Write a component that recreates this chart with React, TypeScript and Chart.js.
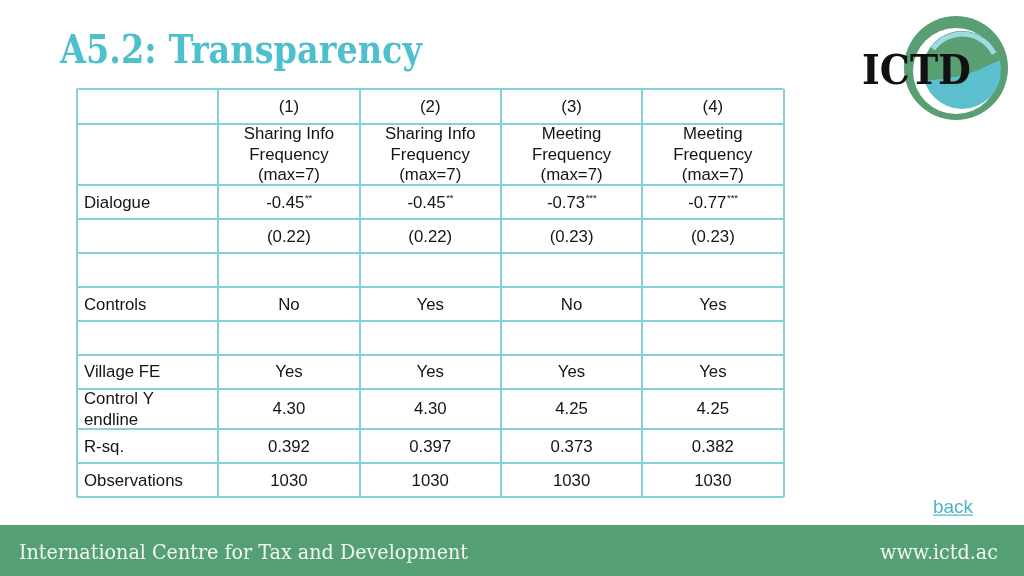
import React, { useEffect, useRef } from "react";
import { Chart, registerables } from "chart.js";

Chart.register(...registerables);

// ---- Data ----
const columnHeaders = ["(1)", "(2)", "(3)", "(4)"];
const dependentVars = [
  "Sharing Info\nFrequency\n(max=7)",
  "Sharing Info\nFrequency\n(max=7)",
  "Meeting\nFrequency\n(max=7)",
  "Meeting\nFrequency\n(max=7)",
];
const rowLabels = ["", "", "Dialogue", "", "", "Controls", "", "Village FE", "Control Y\nendline", "R-sq.", "Observations"];
const coefficients = [-0.45, -0.45, -0.73, -0.77];
const significance = ["**", "**", "***", "***"];
const standardErrors = [0.22, 0.22, 0.23, 0.23];
const controls = ["No", "Yes", "No", "Yes"];
const villageFE = ["Yes", "Yes", "Yes", "Yes"];
const controlMean = [4.3, 4.3, 4.25, 4.25];
const rSquared = [0.392, 0.397, 0.373, 0.382];
const observations = [1030, 1030, 1030, 1030];

const titleText = "A5.2: Transparency";
const footerText = "International Centre for Tax and Development";
const footerUrl = "www.ictd.ac";
const backText = "back";

// ---- Layout (not data) ----
const ROW_HEIGHTS = [34.5, 61.5, 34, 34, 34, 34, 33.5, 34, 40.5, 34, 34];
const TABLE = { left: 77, right: 783.5, top: 89, bottom: 497 };
const LINE_H = 20.5;
const FONT = "16.8px 'Liberation Sans', Arial, sans-serif";
const SUP_FONT = "9.5px 'Liberation Sans', Arial, sans-serif";
const GRID = "#84d1d8";

export default function App() {
  const ref = useRef<HTMLCanvasElement | null>(null);

  useEffect(() => {
    document.body.style.margin = "0";
    const canvas = ref.current;
    if (!canvas) return;

    const bounds: number[] = [0];
    ROW_HEIGHTS.forEach((h, i) => bounds.push(bounds[i] + h));
    const centers = ROW_HEIGHTS.map((h, i) => bounds[i] + h / 2);
    const total = bounds[bounds.length - 1];

    const blanks = ["", "", "", ""];
    const rowCells: string[][] = [
      columnHeaders,
      dependentVars,
      coefficients.map((v) => v.toFixed(2)),
      standardErrors.map((v) => "(" + v.toFixed(2) + ")"),
      blanks,
      controls,
      blanks,
      villageFE,
      controlMean.map((v) => v.toFixed(2)),
      rSquared.map((v) => v.toFixed(3)),
      observations.map((v) => String(v)),
    ];

    const points: any[] = [];
    rowLabels.forEach((lab, r) => {
      if (lab) points.push({ x: 0, y: centers[r], text: lab, align: "left", sup: "" });
      rowCells[r].forEach((t, c) => {
        if (t) points.push({ x: c + 1.5, y: centers[r], text: t, align: "center", sup: r === 2 ? significance[c] : "" });
      });
    });

    const fitText = (ctx: CanvasRenderingContext2D, text: string, x: number, y: number, width: number) => {
      const w = ctx.measureText(text).width;
      ctx.save();
      ctx.translate(x, y);
      ctx.scale(width / w, 1);
      ctx.fillText(text, 0, 0);
      ctx.restore();
    };

    const decor = {
      id: "decor",
      beforeDraw(chart: any) {
        const ctx = chart.ctx as CanvasRenderingContext2D;
        ctx.save();
        ctx.fillStyle = "#ffffff";
        ctx.fillRect(0, 0, 1024, 576);
        // footer
        ctx.fillStyle = "#559f74";
        ctx.fillRect(0, 525, 1024, 51);
        ctx.fillStyle = "#f3f8f1";
        ctx.textBaseline = "alphabetic";
        ctx.textAlign = "left";
        ctx.font = "20px 'DejaVu Serif', serif";
        fitText(ctx, footerText, 19, 559, 449);
        fitText(ctx, footerUrl, 880, 558.5, 118);
        // title
        ctx.fillStyle = "#4ebfcc";
        ctx.font = "bold 40px 'DejaVu Serif', serif";
        fitText(ctx, titleText, 60, 63, 362);
        // back link
        ctx.fillStyle = "#4eb4c8";
        ctx.font = "19px 'Liberation Sans', Arial, sans-serif";
        fitText(ctx, backText, 933, 512.5, 40);
        ctx.fillRect(933, 514.5, 40, 1.2);
        // logo
        ctx.fillStyle = "#5a9f74";
        ctx.beginPath();
        ctx.arc(956, 68, 52, 0, Math.PI * 2);
        ctx.fill();
        ctx.fillStyle = "#ffffff";
        ctx.beginPath();
        ctx.arc(956, 71, 43, 0, Math.PI * 2);
        ctx.fill();
        ctx.save();
        ctx.beginPath();
        ctx.arc(962, 70, 39, 0, Math.PI * 2);
        ctx.clip();
        ctx.fillStyle = "#5cbfce";
        ctx.fillRect(900, 20, 110, 110);
        ctx.fillStyle = "#5a9f74";
        ctx.beginPath();
        ctx.moveTo(915, 20);
        ctx.lineTo(1010, 20);
        ctx.lineTo(1010, 58);
        ctx.bezierCurveTo(990, 62, 985, 70, 960, 76);
        ctx.bezierCurveTo(940, 80, 925, 80, 915, 82);
        ctx.closePath();
        ctx.fill();
        ctx.strokeStyle = "#9fdbe2";
        ctx.lineWidth = 5;
        ctx.beginPath();
        ctx.arc(962, 70, 36, Math.PI * 1.2, Math.PI * 1.85);
        ctx.stroke();
        ctx.restore();
        ctx.fillStyle = "#111111";
        ctx.font = "bold 41px 'DejaVu Serif', serif";
        fitText(ctx, "ICTD", 862, 84, 109);
        ctx.restore();
      },
    };

    const tableText = {
      id: "tableText",
      afterDatasetsDraw(chart: any) {
        const ctx = chart.ctx as CanvasRenderingContext2D;
        const meta = chart.getDatasetMeta(0);
        const data = chart.data.datasets[0].data as any[];
        ctx.save();
        ctx.fillStyle = "#141414";
        ctx.textBaseline = "middle";
        meta.data.forEach((el: any, i: number) => {
          const d = data[i];
          const lines = String(d.text).split("\n");
          const y0 = el.y - ((lines.length - 1) * LINE_H) / 2;
          ctx.font = FONT;
          if (d.align === "left") {
            ctx.textAlign = "left";
            lines.forEach((ln: string, k: number) => ctx.fillText(ln, el.x + 7, y0 + k * LINE_H + 1));
          } else {
            let supW = 0;
            if (d.sup) {
              ctx.font = SUP_FONT;
              supW = ctx.measureText(d.sup).width;
              ctx.font = FONT;
            }
            ctx.textAlign = "left";
            lines.forEach((ln: string, k: number) => {
              const w = ctx.measureText(ln).width;
              const sx = el.x - (w + supW) / 2;
              ctx.fillText(ln, sx, y0 + k * LINE_H + 1);
              if (d.sup) {
                ctx.font = SUP_FONT;
                ctx.fillText(d.sup, sx + w + 0.5, y0 + k * LINE_H - 4);
                ctx.font = FONT;
              }
            });
          }
        });
        ctx.restore();
      },
    };

    const chart = new Chart(canvas, {
      type: "scatter",
      data: {
        datasets: [
          {
            data: points,
            pointRadius: 0,
            pointHoverRadius: 0,
            showLine: false,
          },
        ],
      },
      options: {
        animation: false,
        responsive: false,
        events: [],
        layout: {
          padding: {
            left: TABLE.left,
            right: 1024 - TABLE.right,
            top: TABLE.top,
            bottom: 576 - TABLE.bottom,
          },
        },
        plugins: { legend: { display: false }, tooltip: { enabled: false }, title: { display: false } },
        scales: {
          x: {
            type: "linear",
            min: 0,
            max: 5,
            afterBuildTicks: (s: any) => {
              s.ticks = [0, 1, 2, 3, 4, 5].map((v) => ({ value: v }));
            },
            ticks: { display: false },
            grid: { color: GRID, lineWidth: 2, drawTicks: false },
            border: { display: false },
          },
          y: {
            type: "linear",
            min: 0,
            max: total,
            reverse: true,
            afterBuildTicks: (s: any) => {
              s.ticks = bounds.map((v) => ({ value: v }));
            },
            ticks: { display: false },
            grid: { color: GRID, lineWidth: 2, drawTicks: false },
            border: { display: false },
          },
        },
      },
      plugins: [decor, tableText],
    } as any);

    return () => chart.destroy();
  }, []);

  return (
    <div style={{ position: "fixed", left: 0, top: 0, width: 1024, height: 576 }}>
      <canvas ref={ref} width={1024} height={576} style={{ display: "block" }} />
    </div>
  );
}
